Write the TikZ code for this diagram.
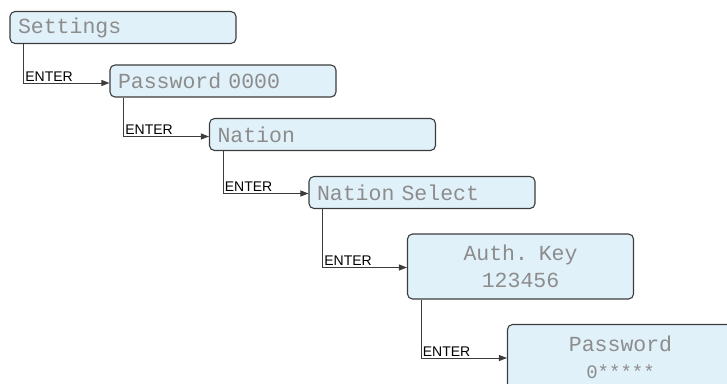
\documentclass[tikz,border=0pt]{standalone}
\usepackage{fontspec}
\setmainfont{Liberation Sans}
\newfontfamily\lcdfont[WordSpace={1,0,0}]{Liberation Mono}
\usetikzlibrary{arrows.meta}
\usetikzlibrary{positioning}
\definecolor{lcdfill}{HTML}{E1F1FA}
\definecolor{lcdedge}{HTML}{3C3C3C}
\definecolor{lcdtext}{HTML}{8C8C8C}
\tikzset{
lcd/.style={
	rectangle,
	rounded corners=5pt,
	minimum width=226pt,
	minimum height=32pt,
	draw=lcdedge,
	line width=1.1pt,
	fill=lcdfill,
	text=lcdtext,
	font=\lcdfont\fontsize{21.5}{27}\selectfont,
	inner sep=0pt
},
lcdleft/.style={
	lcd,
	text width=210pt,
	align=left
},
lcdtwo/.style={
	lcd,
	minimum height=65pt,
	text width=210pt,
	align=center
},
link/.style={
	-{Triangle[length=8pt,width=6pt]},
	draw=lcdedge,
	line width=0.9pt
},
key/.style={
	anchor=south west,
	inner sep=1.5pt,
	font=\fontsize{14}{16}\selectfont
}
}
\begin{document}
\begin{tikzpicture}[x=1pt, y=-1pt]
\useasboundingbox (0,0) rectangle (727,383);
% ===== Menu screens, stepping down to the right =====
\node (settings) [lcdleft] at (123, 27.5)  {Settings};
\node (pwd)      [lcdleft] at (223, 81)    {Password 0000};
\node (nation)   [lcdleft] at (322.5, 134.5) {Nation};
\node (natsel)   [lcdleft] at (422, 192.5) {Nation Select};
\node (authkey)  [lcdtwo]  at (520.5, 266.5) {Auth. Key\\123456};
\node (newpwd)   [lcdtwo]  at (620.5, 357) {Password\\{\fontsize{19}{24}\selectfont 0*****}};
% ===== ENTER steps =====
\draw [link] ([xshift=14pt]settings.south west) |- node[pos=0.5, key] {ENTER} ([yshift=-2pt]pwd.west);
\draw [link] ([xshift=14pt]pwd.south west)      |- node[pos=0.5, key] {ENTER} ([yshift=-2pt]nation.west);
\draw [link] ([xshift=14pt]nation.south west)   |- node[pos=0.5, key] {ENTER} ([yshift=-1pt]natsel.west);
\draw [link] ([xshift=14pt]natsel.south west)   |- node[pos=0.5, key] {ENTER} ([yshift=-1pt]authkey.west);
\draw [link] ([xshift=14pt]authkey.south west)  |- node[pos=0.5, key] {ENTER} ([yshift=-1pt]newpwd.west);
\end{tikzpicture}
\end{document}
